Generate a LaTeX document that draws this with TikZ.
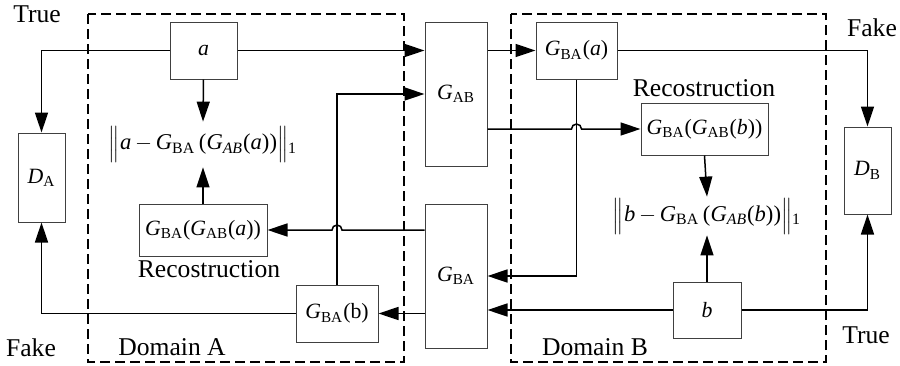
\documentclass[tikz,border=0pt]{standalone}
\usepackage{fontspec}
\setmainfont{Liberation Serif}
\usetikzlibrary{arrows.meta,calc}
\newcommand{\Gsub}[1]{\textit{G}\textsubscript{#1}}
\begin{document}
\begin{tikzpicture}[x=0.5pt,y=-0.5pt, font=\fontsize{12.8}{15}\selectfont,
  blk/.style={draw=black!75, line width=0.5pt, inner sep=0pt, fill=white, font=\fontsize{10.9}{13}\selectfont},
  conn/.style={line width=0.75pt, -{Triangle[length=10pt,width=6.5pt]}},
  domainbox/.style={line width=0.75pt, dash pattern=on 5pt off 2.5pt},
  lbl/.style={anchor=base, inner sep=0pt},
  expr/.style={inner sep=0pt, font=\fontsize{11.3}{14}\selectfont}]
\useasboundingbox (0,0) rectangle (900,365);
% domains
\draw[domainbox] (88,14) rectangle (404,362);
\draw[domainbox] (511,14) rectangle (826,362);
% nodes
\node[blk, minimum width=33.5pt, minimum height=28.5pt] (a) at (203.5,50.5) {\textit{a}};
\node[blk, minimum width=23.5pt, minimum height=44.5pt] (DA) at (41.5,177.5) {\textit{D}\textsubscript{A}};
\node[expr, minimum height=22.5pt] (normA) at (203,144.5) {$\Big\Vert$\textit{a}\,$-$\,\Gsub{BA}\,(\textit{G}\textsubscript{\itshape AB}(\textit{a}))$\Big\Vert$\textsubscript{1}};
\node[blk, minimum width=64pt, minimum height=26pt] (rA) at (203,230) {\Gsub{BA}(\Gsub{AB}(\textit{a}))};
\node[blk, minimum width=41pt, minimum height=28.5pt] (GBAb) at (337,313.5) {\Gsub{BA}(b)};
\node[blk, minimum width=31pt, minimum height=72pt] (GAB) at (456,94) {\Gsub{AB}};
\node[blk, minimum width=31pt, minimum height=72pt] (GBA) at (456,276) {\Gsub{BA}};
\node[blk, minimum width=40.5pt, minimum height=28.5pt] (GBAa) at (576.5,50.5) {\Gsub{BA}(\textit{a})};
\node[blk, minimum width=63.5pt, minimum height=26pt] (rB) at (704.5,129) {\Gsub{BA}(\Gsub{AB}(\textit{b}))};
\node[expr, minimum height=19pt] (normB) at (707,216) {$\Big\Vert$\textit{b}\,$-$\,\Gsub{BA}\,(\textit{G}\textsubscript{\itshape AB}(\textit{b}))$\Big\Vert$\textsubscript{1}};
\node[blk, minimum width=34pt, minimum height=28pt] (b) at (707,310) {\textit{b}};
\node[blk, minimum width=23.5pt, minimum height=43.5pt] (DB) at (867.5,170.5) {\textit{D}\textsubscript{B}};
% labels
\node[lbl] (t1) at (37,22) {True};
\node[lbl] (f1) at (31,356) {Fake};
\node[lbl] (f2) at (872,36) {Fake};
\node[lbl] (t2) at (866,343) {True};
\node[lbl] (dA) at (172,355) {Domain A};
\node[lbl] (dB) at (595,355) {Domain B};
\node[lbl] (recA) at (209,277) {Recostruction};
\node[lbl] (recB) at (704,96) {Recostruction};
% connectors
\draw[conn] (a.west) -| (DA.north);
\draw[conn] (a.east) -- (GAB.west |- a.east);
\draw[conn] (a.south) -- (normA.north);
\draw[conn] (rA.north) -- (normA.south);
\draw[conn] (GBA.west |- rA.east) -- ($(GBAb.north |- rA.east)+(5,0)$) arc (0:-180:5) -- (rA.east);
\draw[conn] (GBAb.north) |- (GAB.west);
\draw[conn] (GBA.west |- GBAb.east) -- (GBAb.east);
\draw[conn] (GBAb.west) -| (DA.south);
\draw[conn] (GAB.east |- GBAa.west) -- (GBAa.west);
\draw[conn] (GAB.east |- rB.west) -- ($(GBAa.south |- rB.west)+(-5,0)$) arc (180:360:5) -- (rB.west);
\draw[conn] (GBAa.south) |- (GBA.east);
\draw[conn] (GBAa.east) -| (DB.north);
\draw[conn] (rB.south) -- (normB.north);
\draw[conn] (b.north) -- (normB.south);
\draw[conn] (b.west) -- (GBA.east |- b.west);
\draw[conn] (b.east) -| (DB.south);
\end{tikzpicture}
\end{document}
